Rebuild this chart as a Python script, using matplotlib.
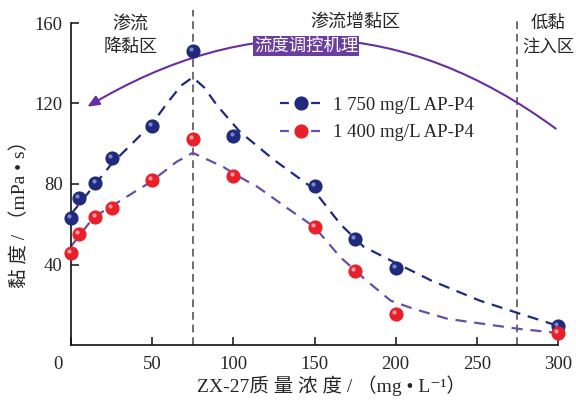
import matplotlib
matplotlib.use("Agg")
import matplotlib.pyplot as plt
from matplotlib.lines import Line2D
from matplotlib.patches import FancyArrowPatch
from matplotlib.transforms import ScaledTranslation

FAM = ['Liberation Serif', 'Noto Sans CJK SC', 'DejaVu Serif']
plt.rcParams['font.family'] = FAM

# ---- data ----
conc = [0, 5, 15, 25, 50, 75, 100, 150, 175, 200, 300]
visc_1750 = [63, 73, 80.5, 93, 109, 146, 104, 79, 52.5, 38.5, 9.5]
visc_1400 = [45.5, 55, 63.5, 68, 82, 102.5, 84, 58.5, 37, 15.5, 6]

fit_1750_x = [0, 15, 25, 50, 60, 68, 75, 82, 90, 104, 125, 148, 166, 180, 197, 222, 252, 276, 300]
fit_1750_y = [65, 80, 90, 110, 121, 129, 133, 128, 119, 106, 92, 78.5, 60, 49, 42, 32, 22, 15.7, 9.5]
fit_1400_x = [0, 14, 25, 49, 65, 75, 94, 102, 115, 135, 150, 166, 182, 197, 211, 232, 276, 300]
fit_1400_y = [49, 63.5, 69, 81, 91, 95.5, 88.4, 84.3, 78.5, 67, 58.6, 43.6, 32, 22, 18, 13, 8, 6]

labels = ['1 750 mg/L AP-P4', '1 400 mg/L AP-P4']
zone_bounds = [75, 275]
xticks = [0, 50, 100, 150, 200, 250, 300]
yticks = [40, 80, 120, 160]

C_BLUE = '#1f2a7c'
C_BLUE_HI = '#8a93cf'
C_RED = '#e8202a'
C_RED_HI = '#f8aab0'
C_FIT1 = '#1f2a7c'
C_FIT2 = '#6450aa'
C_PURPLE = '#6a2d9e'
TXT = '#262626'

fig = plt.figure(figsize=(5.76, 4.0), dpi=100)
ax = fig.add_axes([71/576, 1-345/400, (558-71)/576, (345-23)/400])
ax.set_xlim(0, 300)
ax.set_ylim(0, 160)

for s in ['top', 'right']:
    ax.spines[s].set_visible(False)
for s in ['left', 'bottom']:
    ax.spines[s].set_linewidth(1.2)
    ax.spines[s].set_color('#111111')

ax.set_xticks(xticks)
ax.set_yticks(yticks)
ax.tick_params(direction='in', length=6, width=1.1, colors='#111111',
               labelsize=13.5, labelcolor=TXT)
ax.tick_params(axis='x', pad=8)
ax.tick_params(axis='y', pad=6)
lab0 = ax.get_xticklabels()[0]
lab0.set_transform(lab0.get_transform() + ScaledTranslation(-0.13, 0, fig.dpi_scale_trans))

# zone boundaries
for xb, ytop in zip(zone_bounds, [166.5, 161.5]):
    ax.plot([xb, xb], [0, ytop], ls=(0, (4, 2.5)), color='#6e6e6e', lw=1.4,
            clip_on=False, zorder=1)

# fitted curves
ax.plot(fit_1750_x, fit_1750_y, ls=(0, (5, 3.5)), color=C_FIT1, lw=1.6, zorder=2, clip_on=False)
ax.plot(fit_1400_x, fit_1400_y, ls=(0, (5, 3.5)), color=C_FIT2, lw=1.6, zorder=2, clip_on=False)

# glossy markers
hi = ScaledTranslation(-1.8/100, 2.0/100, fig.dpi_scale_trans)
for ys, c, ch in [(visc_1750, C_BLUE, C_BLUE_HI), (visc_1400, C_RED, C_RED_HI)]:
    ax.plot(conc, ys, 'o', ms=9.2, color=c, mec=c, zorder=4, clip_on=False)
    ax.plot(conc, ys, 'o', ms=3.0, color=ch, mec='none', zorder=5, clip_on=False,
            transform=ax.transData + hi, alpha=0.9)

# legend
h1 = Line2D([], [], ls=(0, (4, 3)), color=C_FIT1, lw=1.6, marker='o', ms=9.2,
            mfc=C_BLUE, mec=C_BLUE)
h2 = Line2D([], [], ls=(0, (4, 3)), color=C_FIT2, lw=1.6, marker='o', ms=9.2,
            mfc=C_RED, mec=C_RED)
leg = ax.legend([h1, h2], labels, loc='upper left', bbox_to_anchor=(263/576, 1-80/400),
                bbox_transform=fig.transFigure, frameon=False, fontsize=13.5,
                handlelength=2.3, handletextpad=0.55, labelspacing=0.55, numpoints=1)
for t in leg.get_texts():
    t.set_color(TXT)

# zone texts
CJK = ['Noto Sans CJK SC']
ax.text(36.5, 154.0, '渗流\n降黏区', ha='center', va='center', fontsize=13, color=TXT,
        linespacing=1.35, family=CJK)
ax.text(175, 160.5, '渗流增黏区', ha='center', va='center', fontsize=13, color=TXT,
        family=CJK)
ax.text(294, 154.0, '低黏\n注入区', ha='center', va='center', fontsize=12.5, color=TXT,
        linespacing=1.4, family=CJK, clip_on=False)

# mechanism arc
arc = FancyArrowPatch((300, 106.7), (8.6, 117.7), connectionstyle='arc3,rad=0.335',
                      arrowstyle='-|>,head_length=7,head_width=3', color=C_PURPLE,
                      lw=1.5, zorder=3, clip_on=False, mutation_scale=1)
ax.add_patch(arc)
ax.text(145, 148.5, '流度调控机理', ha='center', va='center', fontsize=12.5, color='white',
        family=CJK, zorder=6,
        bbox=dict(boxstyle='square,pad=0.05', fc='#6a3e9e', ec='none'))

# axis labels
ax.set_xlabel('ZX-27质 量 浓 度 / （mg • L⁻¹）', fontsize=14, color=TXT, labelpad=2)
ax.xaxis.set_label_coords(0.535, -0.095)
ax.set_ylabel('黏 度 / （mPa • s）', fontsize=14, color=TXT, labelpad=8)
ax.yaxis.set_label_coords(-0.085, 0.42)

fig.savefig('out.png', dpi=100)
